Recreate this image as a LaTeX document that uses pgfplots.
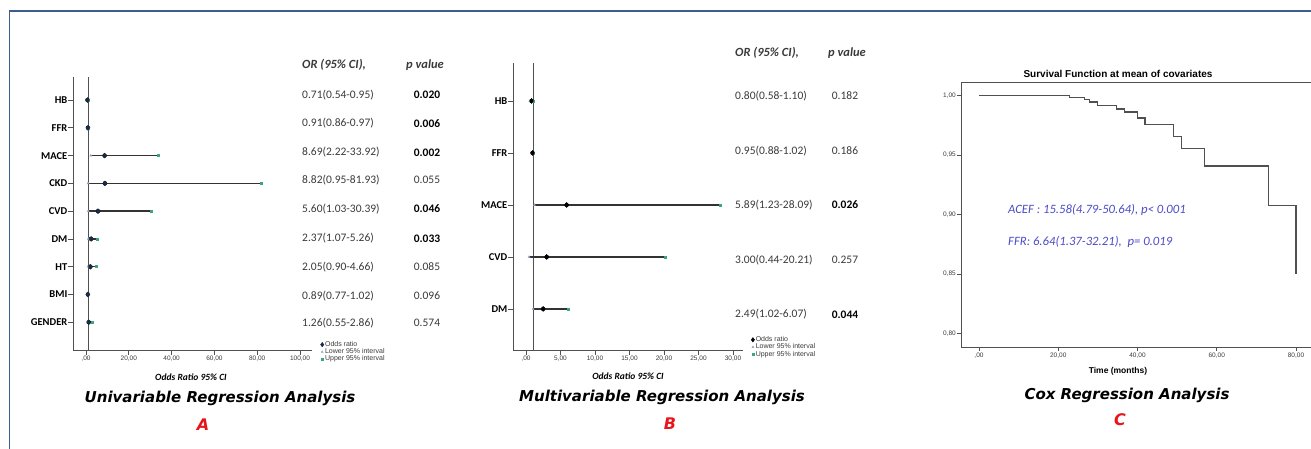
\documentclass[border=0pt]{standalone}
\usepackage{pgfplots}
\pgfplotsset{compat=1.18}
\usepackage{pgfplotstable}
\usepackage{fontspec}
\setmainfont{Carlito}
\newfontfamily\arial{Liberation Sans}
\newfontfamily\verd{DejaVu Sans}
\definecolor{frame}{HTML}{3B5E8C}
\definecolor{navy}{HTML}{1B2A45}
\definecolor{cigray}{HTML}{333333}
\definecolor{lowc}{HTML}{8FA8C8}
\definecolor{upc}{HTML}{3CA57A}
\definecolor{annot}{HTML}{4B4BC8}
\definecolor{axgray}{HTML}{505050}
\definecolor{txt}{HTML}{3A3A3A}
\definecolor{redA}{HTML}{E8141B}

\pgfplotstableread{
y or lo hi
9 0.71 0.54 0.95
8 0.91 0.86 0.97
7 8.69 2.22 33.92
6 8.82 0.95 81.93
5 5.60 1.03 30.39
4 2.37 1.07 5.26
3 2.05 0.90 4.66
2 0.89 0.77 1.02
1 1.26 0.55 2.86
}\dataA

\pgfplotstableread{
y or lo hi
5 0.80 0.58 1.10
4 0.95 0.88 1.02
3 5.89 1.23 28.09
2 3.00 0.44 20.21
1 2.49 1.02 6.07
}\dataB

\pgfplotstableread{
t s
0 1.000
22.8 0.9986
26.7 0.9969
27.8 0.9947
29.9 0.9916
34.7 0.9888
36.8 0.9863
40.0 0.9812
41.9 0.9756
49.0 0.9658
51.0 0.9554
57.0 0.9408
73.0 0.9077
80.0 0.850
}\dataC

\pgfplotsset{
  forest/.style={
    scale only axis, anchor=south west, clip=false,
    axis lines*=left,
    axis line style={axgray, line width=0.8pt},
    tick align=outside,
    major tick length=5pt,
    ytick style={axgray, line width=0.7pt},
    xtick style={axgray, line width=0.6pt},
    yticklabel style={font=\bfseries\fontsize{10.5}{12}\selectfont, text=black, inner sep=0.5pt},
    xticklabel style={font=\arial\fontsize{6.5}{7}\selectfont, text=txt, inner sep=1pt},
    legend style={draw=none, fill=none, inner sep=0pt, font=\arial\fontsize{7}{8}\selectfont, text=txt, row sep=-1.7pt,
      nodes={inner sep=1.2pt}},
    legend cell align=left,
    legend image code/.code={\draw[#1] plot coordinates {(0pt,0pt)};},
  },
}

\begin{document}
\begin{tikzpicture}[x=1pt,y=1pt]
\path[use as bounding box] (0,0) rectangle (1311,-448);
\draw[frame, line width=1.3pt] (9.5,-449) -- (9.5,-11) -- (1312,-11);

% ---------------- Panel A ----------------
\begin{axis}[forest,
  at={(73pt,-350pt)}, width=239pt, height=273pt,
  xmin=-6.07, xmax=105.6, ymin=0, ymax=9.83,
  xtick={0,20,40,60,80,100},
  xticklabels={{,00},{20,00},{40,00},{60,00},{80,00},{100,00}},
  ytick={1,2,3,4,5,6,7,8,9},
  yticklabels={GENDER,BMI,HT,DM,CVD,CKD,MACE,FFR,HB},
  legend style={at={(rel axis cs:1.035,0.037)}, anchor=north west},
]
\addplot[axgray, line width=0.7pt, forget plot] coordinates {(1,0) (1,9.83)};
\addplot[only marks, mark=none, forget plot,
  error bars/.cd, x dir=both, x explicit, error mark=none,
  error bar style={draw=cigray, line width=1.5pt}]
  table[x=or, y=y, x error plus expr=\thisrow{hi}-\thisrow{or}, x error minus expr=\thisrow{or}-\thisrow{lo}] {\dataA};
\addplot[only marks, mark=triangle*, mark size=1.2pt, lowc, forget plot] table[x=lo, y=y] {\dataA};
\addplot[only marks, mark=square*, mark size=1.0pt, upc, forget plot] table[x=hi, y=y] {\dataA};
\addplot[only marks, mark=diamond*, mark size=2.5pt, navy, forget plot] table[x=or, y=y] {\dataA};
\addlegendimage{only marks, mark=diamond*, mark size=2.2pt, navy}
\addlegendentry{Odds ratio}
\addlegendimage{only marks, mark=triangle*, mark size=1.1pt, lowc}
\addlegendentry{Lower 95\% interval}
\addlegendimage{only marks, mark=square*, mark size=1pt, upc}
\addlegendentry{Upper 95\% interval}
\end{axis}

\begin{scope}[every node/.style={text=txt, inner sep=0pt}]
\node[anchor=west, font=\bfseries\itshape\fontsize{12.5}{14}\selectfont] at (302,-65) {OR (95\% CI),};
\node[font=\bfseries\itshape\fontsize{12.5}{14}\selectfont] at (425,-65) {p value};
\foreach \yy/\ci/\p/\b in {95/{0.71(0.54-0.95)}/0.020/1, 123.3/{0.91(0.86-0.97)}/0.006/1, 152.3/{8.69(2.22-33.92)}/0.002/1, 180/{8.82(0.95-81.93)}/0.055/0, 209/{5.60(1.03-30.39)}/0.046/1, 238.3/{2.37(1.07-5.26)}/0.033/1, 266.7/{2.05(0.90-4.66)}/0.085/0, 295.7/{0.89(0.77-1.02)}/0.096/0, 323.3/{1.26(0.55-2.86)}/0.574/0}{
  \node[anchor=west, font=\fontsize{11.5}{12}\selectfont] at (302,-\yy) {\ci};
  \ifnum\b=1
    \node[font=\bfseries\fontsize{11.5}{12}\selectfont, text=black] at (427,-\yy) {\p};
  \else
    \node[font=\fontsize{11.5}{12}\selectfont] at (427,-\yy) {\p};
  \fi
}
\node[font=\bfseries\itshape\fontsize{9.5}{11}\selectfont, text=black] at (191,-377) {Odds Ratio 95\% CI};
\end{scope}
\node[font=\verd\bfseries\itshape\fontsize{15}{17}\selectfont, inner sep=0pt] at (220,-398) {Univariable Regression Analysis};
\node[font=\verd\bfseries\itshape\fontsize{16}{18}\selectfont, text=redA, inner sep=0pt] at (203,-425) {A};

% ---------------- Panel B ----------------
\begin{axis}[forest,
  at={(513pt,-350pt)}, width=230pt, height=287pt,
  xmin=-1.88, xmax=31.45, ymin=0.21, ymax=5.73,
  xtick={0,5,10,15,20,25,30},
  xticklabels={{,00},{5,00},{10,00},{15,00},{20,00},{25,00},{30,00}},
  ytick={1,2,3,4,5},
  yticklabels={DM,CVD,MACE,FFR,HB},
  legend style={at={(rel axis cs:1.035,0.052)}, anchor=north west},
]
\addplot[axgray, line width=0.7pt, forget plot] coordinates {(1,0.21) (1,5.73)};
\addplot[only marks, mark=none, forget plot,
  error bars/.cd, x dir=both, x explicit, error mark=none,
  error bar style={draw=cigray, line width=1.5pt}]
  table[x=or, y=y, x error plus expr=\thisrow{hi}-\thisrow{or}, x error minus expr=\thisrow{or}-\thisrow{lo}] {\dataB};
\addplot[only marks, mark=triangle*, mark size=1.2pt, lowc, forget plot] table[x=lo, y=y] {\dataB};
\addplot[only marks, mark=square*, mark size=1.0pt, upc, forget plot] table[x=hi, y=y] {\dataB};
\addplot[only marks, mark=diamond*, mark size=2.5pt, black, forget plot] table[x=or, y=y] {\dataB};
\addlegendimage{only marks, mark=diamond*, mark size=2.2pt, black}
\addlegendentry{Odds ratio}
\addlegendimage{only marks, mark=triangle*, mark size=1.1pt, lowc}
\addlegendentry{Lower 95\% interval}
\addlegendimage{only marks, mark=square*, mark size=1pt, upc}
\addlegendentry{Upper 95\% interval}
\end{axis}

\begin{scope}[every node/.style={text=txt, inner sep=0pt}]
\node[anchor=west, font=\bfseries\itshape\fontsize{12.5}{14}\selectfont] at (735,-53) {OR (95\% CI),};
\node[font=\bfseries\itshape\fontsize{12.5}{14}\selectfont] at (847,-53) {p value};
\foreach \yy/\ci/\p/\b in {96/{0.80(0.58-1.10)}/0.182/0, 150.7/{0.95(0.88-1.02)}/0.186/0, 205/{5.89(1.23-28.09)}/0.026/1, 259.7/{3.00(0.44-20.21)}/0.257/0, 314.3/{2.49(1.02-6.07)}/0.044/1}{
  \node[anchor=west, font=\fontsize{11.5}{12}\selectfont] at (735,-\yy) {\ci};
  \ifnum\b=1
    \node[font=\bfseries\fontsize{11.5}{12}\selectfont, text=black] at (845,-\yy) {\p};
  \else
    \node[font=\fontsize{11.5}{12}\selectfont] at (845,-\yy) {\p};
  \fi
}
\node[font=\bfseries\itshape\fontsize{9.5}{11}\selectfont, text=black] at (628,-376) {Odds Ratio 95\% CI};
\end{scope}
\node[font=\verd\bfseries\itshape\fontsize{15}{17}\selectfont, inner sep=0pt] at (662,-397) {Multivariable Regression Analysis};
\node[font=\verd\bfseries\itshape\fontsize{16}{18}\selectfont, text=redA, inner sep=0pt] at (670,-424) {B};

% ---------------- Panel C ----------------
\begin{axis}[
  scale only axis, anchor=south west, clip=false,
  at={(961pt,-347pt)}, width=351pt, height=265pt,
  xmin=-4.54, xmax=84.04, ymin=0.7885, ymax=1.0115,
  axis line style={axgray, line width=0.8pt},
  tick align=outside, xtick pos=bottom, ytick pos=left,
  major tick length=4pt,
  tick style={axgray, line width=0.6pt},
  xtick={0,20,40,60,80},
  xticklabels={{,00},{20,00},{40,00},{60,00},{80,00}},
  ytick={0.80,0.85,0.90,0.95,1.00},
  yticklabels={{0,80},{0,85},{0,90},{0,95},{1,00}},
  xticklabel style={font=\arial\fontsize{6.5}{7}\selectfont, text=txt, inner sep=1.5pt},
  yticklabel style={font=\arial\fontsize{6.5}{7}\selectfont, text=txt, inner sep=1pt},
]
\addplot[const plot mark left, draw=axgray, line width=1.1pt, mark=none] table[x=t, y=s] {\dataC};
\end{axis}
\node[font=\arial\bfseries\fontsize{10}{12}\selectfont, inner sep=0pt] at (1118,-74) {Survival Function at mean of covariates};
\node[anchor=west, font=\itshape\fontsize{12.7}{14}\selectfont, text=annot, inner sep=0pt] at (1008,-210) {ACEF : 15.58(4.79-50.64), p< 0.001};
\node[anchor=west, font=\itshape\fontsize{12.7}{14}\selectfont, text=annot, inner sep=0pt] at (1008,-242) {FFR: 6.64(1.37-32.21),\ \ p= 0.019};
\node[font=\arial\bfseries\fontsize{8.5}{10}\selectfont, inner sep=0pt] at (1118,-371) {Time (months)};
\node[font=\verd\bfseries\itshape\fontsize{15}{17}\selectfont, inner sep=0pt] at (1127,-395) {Cox Regression Analysis};
\node[font=\verd\bfseries\itshape\fontsize{16}{18}\selectfont, text=redA, inner sep=0pt] at (1120,-420) {C};
\end{tikzpicture}
\end{document}
